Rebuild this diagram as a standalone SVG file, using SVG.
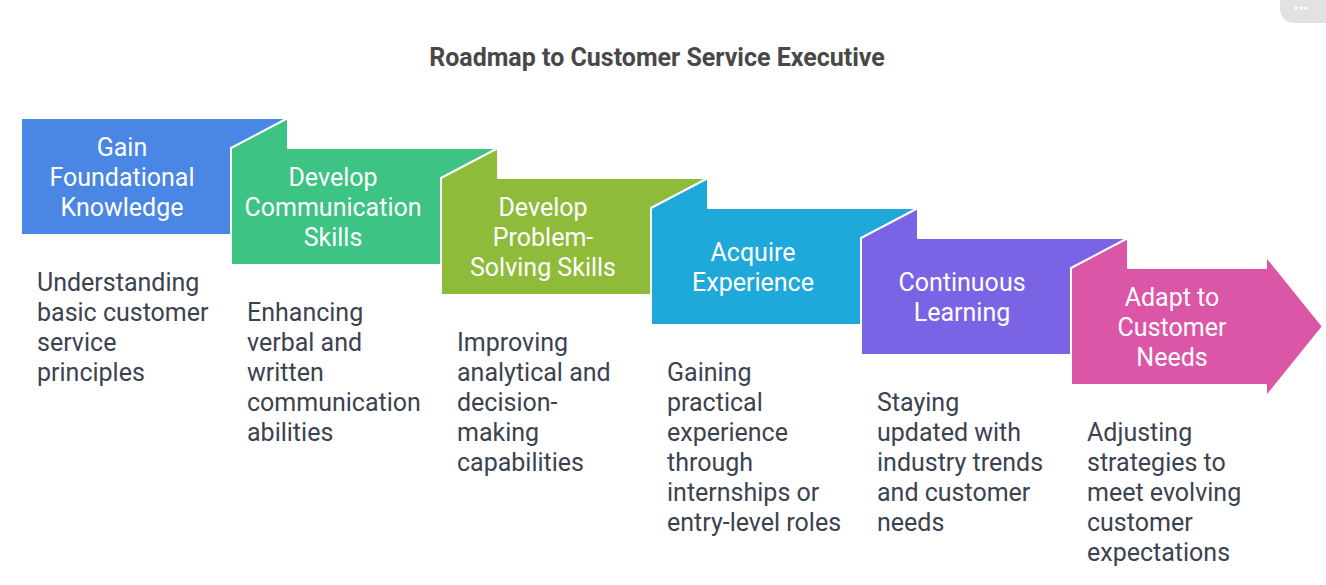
<svg xmlns="http://www.w3.org/2000/svg" width="1326" height="585" viewBox="0 0 1326 585">
<style>
.step{stroke:#ffffff;stroke-width:2;stroke-linejoin:round}
.lbl{font-family:Roboto,"Liberation Sans",sans-serif;font-size:25px;fill:#ffffff;text-anchor:middle}
.desc{font-family:Roboto,"Liberation Sans",sans-serif;font-size:25px;fill:#3b4250}
.title{font-family:Roboto,"Liberation Sans",sans-serif;font-size:25px;font-weight:bold;fill:#484848;text-anchor:middle}
</style>
<rect width="1326" height="585" fill="#ffffff"/>
<g id="menu">
<rect x="1280" y="-12" width="70" height="35" rx="14" fill="#e2e2e2"/>
<circle cx="1296" cy="8" r="1.6" fill="#ffffff"/>
<circle cx="1301" cy="8" r="1.6" fill="#ffffff"/>
<circle cx="1306" cy="8" r="1.6" fill="#ffffff"/>
</g>
<text class="title" x="657" y="66">Roadmap to Customer Service Executive</text>
<g id="connectors"></g>
<g id="step1">
<rect class="step" x="21" y="118" width="267" height="117" fill="#4a86e4"/>
<text class="lbl" x="122" y="156">Gain</text>
<text class="lbl" x="122" y="186">Foundational</text>
<text class="lbl" x="122" y="216">Knowledge</text>
<text class="desc" x="37" y="291">Understanding</text>
<text class="desc" x="37" y="321">basic customer</text>
<text class="desc" x="37" y="351">service</text>
<text class="desc" x="37" y="381">principles</text>
</g>
<g id="step2">
<polygon class="step" points="231,148 288,118 288,148 498,148 498,265 231,265" fill="#3dc383"/>
<text class="lbl" x="333" y="186">Develop</text>
<text class="lbl" x="333" y="216">Communication</text>
<text class="lbl" x="333" y="246">Skills</text>
<text class="desc" x="247" y="321">Enhancing</text>
<text class="desc" x="247" y="351">verbal and</text>
<text class="desc" x="247" y="381">written</text>
<text class="desc" x="247" y="411">communication</text>
<text class="desc" x="247" y="441">abilities</text>
</g>
<g id="step3">
<polygon class="step" points="441,178 498,148 498,178 708,178 708,295 441,295" fill="#8fbb3a"/>
<text class="lbl" x="543" y="216">Develop</text>
<text class="lbl" x="543" y="246">Problem-</text>
<text class="lbl" x="543" y="276">Solving Skills</text>
<text class="desc" x="457" y="351">Improving</text>
<text class="desc" x="457" y="381">analytical and</text>
<text class="desc" x="457" y="411">decision-</text>
<text class="desc" x="457" y="441">making</text>
<text class="desc" x="457" y="471">capabilities</text>
</g>
<g id="step4">
<polygon class="step" points="651,208 708,178 708,208 918,208 918,325 651,325" fill="#1fa8da"/>
<text class="lbl" x="753" y="261">Acquire</text>
<text class="lbl" x="753" y="291">Experience</text>
<text class="desc" x="667" y="381">Gaining</text>
<text class="desc" x="667" y="411">practical</text>
<text class="desc" x="667" y="441">experience</text>
<text class="desc" x="667" y="471">through</text>
<text class="desc" x="667" y="501">internships or</text>
<text class="desc" x="667" y="531">entry-level roles</text>
</g>
<g id="step5">
<polygon class="step" points="861,238 918,208 918,238 1128,238 1128,355 861,355" fill="#7b63e6"/>
<text class="lbl" x="962" y="291">Continuous</text>
<text class="lbl" x="962" y="321">Learning</text>
<text class="desc" x="877" y="411">Staying</text>
<text class="desc" x="877" y="441">updated with</text>
<text class="desc" x="877" y="471">industry trends</text>
<text class="desc" x="877" y="501">and customer</text>
<text class="desc" x="877" y="531">needs</text>
</g>
<g id="step6">
<polygon class="step" points="1071,268 1128,238 1128,268 1266,268 1266,256 1323,326.5 1266,397 1266,385 1071,385" fill="#dc56a8"/>
<text class="lbl" x="1172" y="306">Adapt to</text>
<text class="lbl" x="1172" y="336">Customer</text>
<text class="lbl" x="1172" y="366">Needs</text>
<text class="desc" x="1087" y="441">Adjusting</text>
<text class="desc" x="1087" y="471">strategies to</text>
<text class="desc" x="1087" y="501">meet evolving</text>
<text class="desc" x="1087" y="531">customer</text>
<text class="desc" x="1087" y="561">expectations</text>
</g>
</svg>
